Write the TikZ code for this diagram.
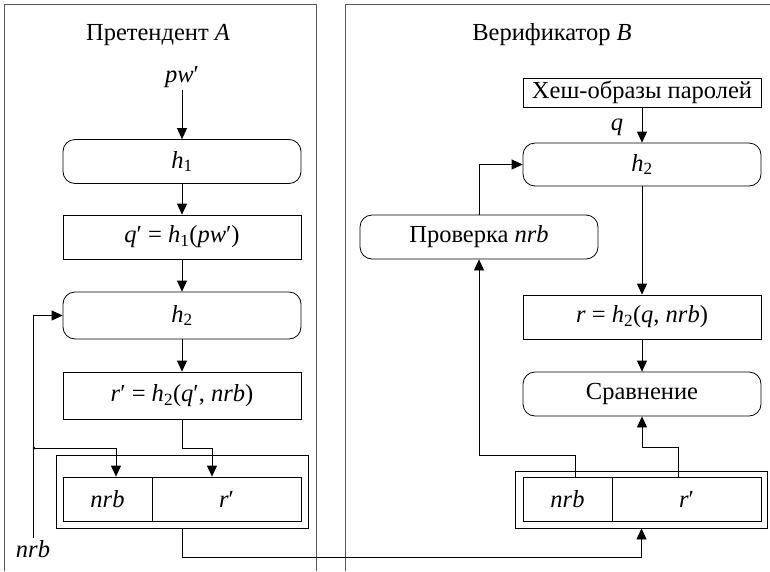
\documentclass[tikz,border=0pt]{standalone}
\usepackage{fontspec}
\setmainfont{Liberation Serif}
\usetikzlibrary{arrows.meta}

\begin{document}
\begin{tikzpicture}[x=1pt, y=-1pt,
        >={Triangle[length=11pt,width=10pt]},   %Pfeilspitzen
        line width=0.8pt,
        font=\fontsize{24.5}{29}\selectfont,
        block/.style={draw, minimum width=238pt, minimum height=44pt, inner sep=0pt},
        func/.style={block, rounded corners=12pt},
        cell/.style={draw, minimum height=44pt, inner sep=0pt},
        packet/.style={draw, minimum width=252pt, inner sep=0pt},
        frame/.style={draw=black!65, line width=1pt},
        lbl/.style={inner sep=1.5pt}]
        \useasboundingbox (0,0) rectangle (770,571);
        %Rahmen der beiden Seiten
        \draw[frame] (4,571) -- (4,4) -- (316,4) -- (316,571);
        \draw[frame] (345,571) -- (345,4) -- (770,4);
        \node[lbl] (titleA) at (158,35) {Претендент \textit{A}};
        \node[lbl] (titleB) at (552,35) {Верификатор \textit{B}};
        % Претендент
        \node[lbl] (pw) at (182,77) {\textit{pw}′};
        \node[func] (h1A) at (182,161.5) {\textit{h}\textsubscript{1}};
        \node[block] (qA) at (182,237) {\textit{q}′ = \textit{h}\textsubscript{1}(\textit{pw}′)};
        \node[func, minimum height=47pt] (h2A) at (182,315.5) {\textit{h}\textsubscript{2}};
        \node[block, minimum height=47pt] (rA) at (182,395.5) {\textit{r}′ = \textit{h}\textsubscript{2}(\textit{q}′, \textit{nrb})};
        \node[packet, minimum height=73pt] (packA) at (182,491.5) {};
        \node[cell, minimum width=89pt] (nrbA) at (107.5,499) {\textit{nrb}};
        \node[cell, minimum width=149pt] (rpA) at (226.5,499) {\textit{r}′};
        \node[lbl] (nrbIn) at (33,549) {\textit{nrb}};
        \coordinate (split) at (34,448);
        % Верификатор
        \node[block, minimum height=29pt] (hashB) at (642,92.5) {Хеш-образы паролей};
        \node[lbl] (qlbl) at (617,127) {\textit{q}};
        \node[func, minimum height=43pt] (h2B) at (642,164.5) {\textit{h}\textsubscript{2}};
        \node[func] (chkB) at (479,237) {Проверка \textit{nrb}};
        \node[block] (rB) at (642,317) {\textit{r} = \textit{h}\textsubscript{2}(\textit{q}, \textit{nrb})};
        \node[func] (cmpB) at (642,394) {Сравнение};
        \node[packet, minimum height=57pt] (packB) at (641.5,499.5) {};
        \node[cell, minimum width=89pt] (nrbB) at (567.5,499) {\textit{nrb}};
        \node[cell, minimum width=149pt] (rpB) at (686.5,499) {\textit{r}′};
        %Verbindungen links
        \draw[->] (pw) -- (h1A);
        \draw[->] (h1A) -- (qA);
        \draw[->] (qA) -- (h2A);
        \draw[->] (h2A) -- (rA);
        \draw[->] (rA.south) -- ++(0,29) -| ([xshift=-14.5pt]rpA.north);
        \draw[->] (nrbIn.north) |- (h2A.west);
        \draw[->] (split) -| ([xshift=8.5pt]nrbA.north);
        \fill (split) circle (1.5pt);
        \draw[->] (packA.south) -- ++(0,29) -| (packB.south);
        %Verbindungen rechts
        \draw[->] (hashB) -- (h2B);
        \draw[->] (h2B) -- (rB);
        \draw[->] (rB) -- (cmpB);
        \draw[->] ([xshift=7.5pt]nrbB.north) -- ++(0,-21) -| (chkB.south);
        \draw[->] (chkB.north) |- (h2B.west);
        \draw[->] ([xshift=-8.5pt]rpB.north) -- ++(0,-29) -| (cmpB.south);
    \end{tikzpicture}
\end{document}
